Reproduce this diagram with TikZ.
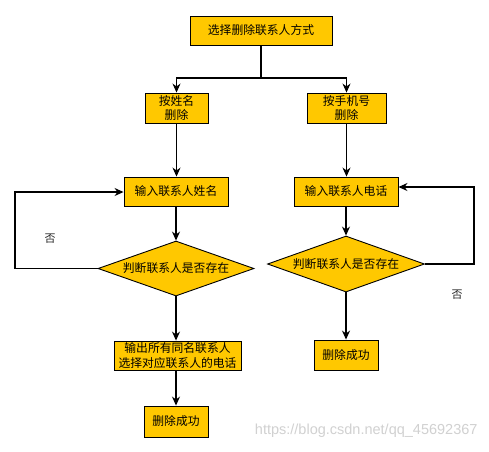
\documentclass[tikz,border=0pt]{standalone}
\usepackage{fontspec}
\newfontfamily\cjk{Noto Sans CJK SC}
\newfontfamily\wm{Liberation Sans}
\usetikzlibrary{shapes.geometric,arrows.meta}
\definecolor{boxfill}{HTML}{FFC800}
\tikzset{
  box/.style={draw=black,line width=0.9pt,fill=boxfill,inner sep=0pt,align=center,
    font=\cjk\fontsize{11.8}{14.5}\selectfont},
  dia/.style={diamond,shape aspect=2.84,draw=black,line width=0.9pt,fill=boxfill,inner sep=0pt,
    font=\cjk\fontsize{11.8}{14.5}\selectfont},
  arr/.style={line width=1.1pt,-{Stealth[length=9pt,width=8pt]}},
  ln/.style={line width=1.1pt},
  lbl/.style={font=\cjk\fontsize{11}{13}\selectfont,text=black!85}
}
\begin{document}
\begin{tikzpicture}[x=1pt,y=-1pt]
\useasboundingbox[fill=white] (0,0) rectangle (489,451);
\node[box,minimum width=142pt,minimum height=29pt] (top) at (261,30.5) {选择删除联系人方式};
\node[box,minimum width=63pt,minimum height=30pt] (bl) at (176.5,108) {按姓名\\删除};
\node[box,minimum width=79pt,minimum height=30pt] (br) at (346.5,108) {按手机号\\删除};
\node[box,minimum width=104pt,minimum height=29pt] (in1) at (176,191.5) {输入联系人姓名};
\node[box,minimum width=104pt,minimum height=29pt] (in2) at (346,191.5) {输入联系人电话};
\node[dia,minimum width=156pt,minimum height=55pt] (d1) at (176,268.5) {判断联系人是否存在};
\node[dia,minimum width=157pt,minimum height=56pt] (d2) at (346,264) {判断联系人是否存在};
\node[box,minimum width=127pt,minimum height=29pt] (out1) at (177.5,355.5) {输出所有同名联系人\\选择对应联系人的电话};
\node[box,minimum width=64pt,minimum height=31pt] (del1) at (176,421.5) {删除成功};
\node[box,minimum width=64pt,minimum height=30pt] (del2) at (346,355) {删除成功};
\node[lbl] (no1) at (50,239) {否};
\node[lbl] (no2) at (457,295) {否};
\node[font=\wm\fontsize{14.5}{16}\selectfont,text=black!18,anchor=east] (wmk) at (481,431) {https://blog.csdn.net/qq\_45692367};
\coordinate (j) at (261,78);
\draw[ln] (top.south) -- (j);
\draw[arr] (j) -| (bl.north);
\draw[arr] (j) -| (br.north);
\draw[arr] (bl.south) -- (bl.south |- in1.north);
\draw[arr] (br.south) -- (br.south |- in2.north);
\draw[arr] (in1.south) -- (d1.north);
\draw[arr] (in2.south) -- (d2.north);
\draw[arr] (d1.south) -- (d1.south |- out1.north);
\draw[arr] (d2.south) -- (del2.north);
\draw[arr] (d1.south |- out1.south) -- (del1.north);
\coordinate (l1) at (15,192);
\draw[arr] (d1.west) -| (l1) -- (in1.west |- l1);
\coordinate (r1) at (474,187);
\draw[arr] (d2.east) -| (r1) -- (in2.east |- r1);
\end{tikzpicture}
\end{document}
